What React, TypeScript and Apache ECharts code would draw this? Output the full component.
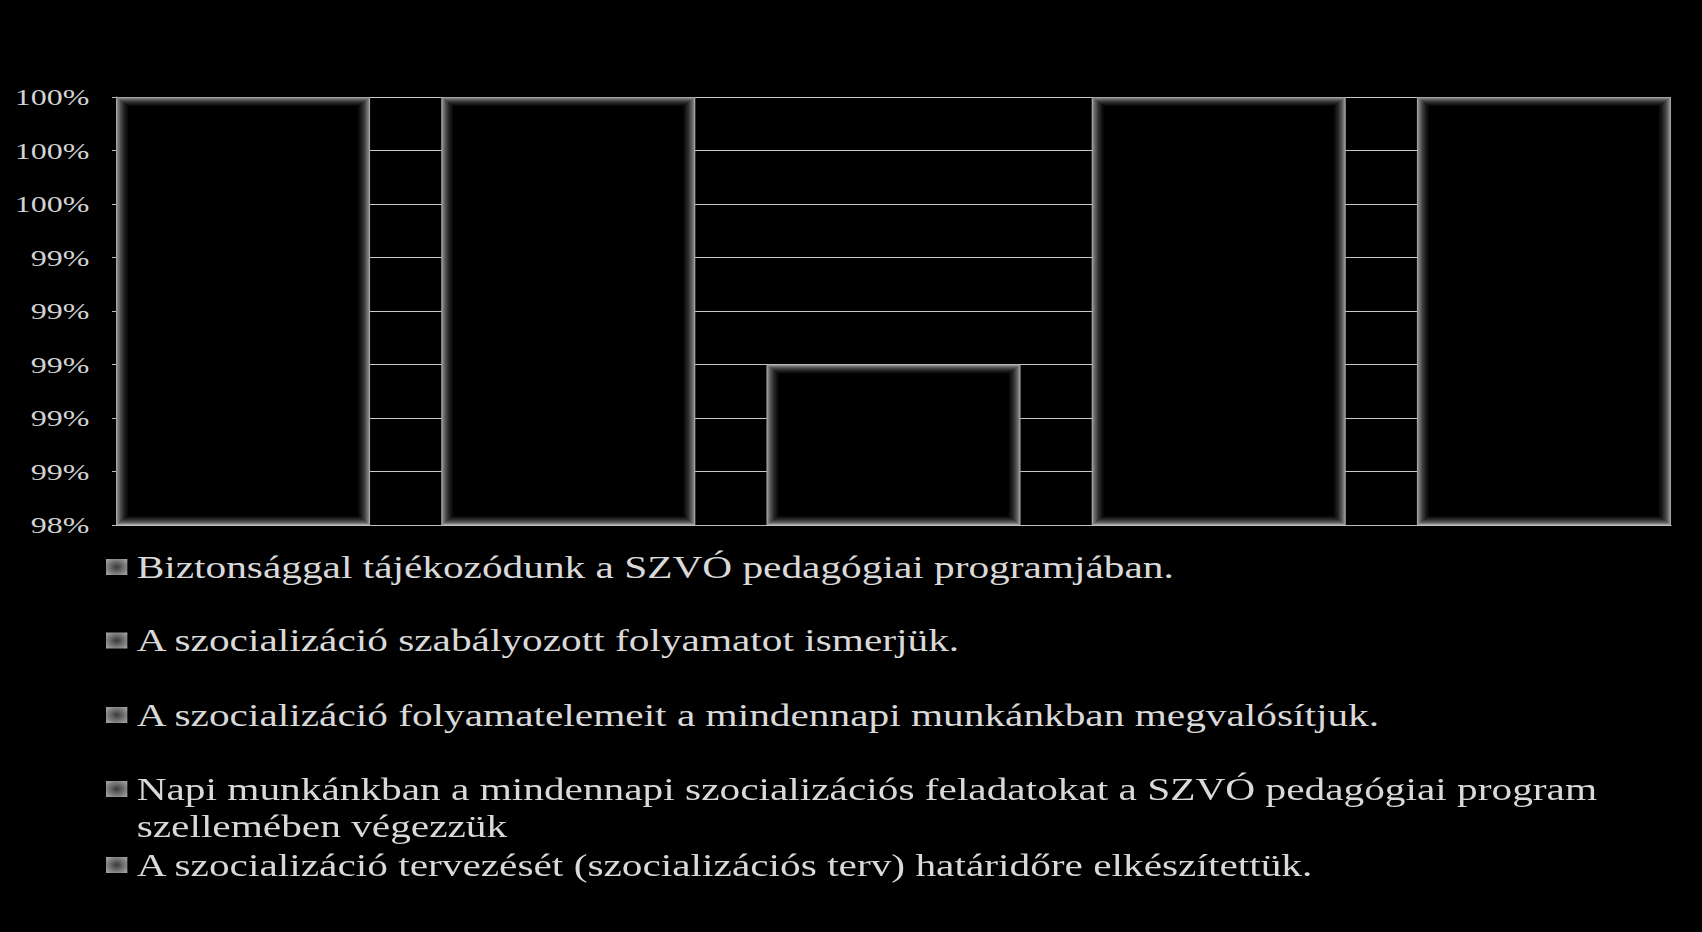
import { useEffect, useRef } from 'react';
import * as echarts from 'echarts';

// the reference picture is a 4:3 slide stretched to 16:9, so the chart is drawn narrow and stretched
const SX = 4 / 3;
const W = 1702;
const H = 932;

const seriesNames = [
    'Biztonsággal tájékozódunk a SZVÓ pedagógiai programjában.',
    'A szocializáció szabályozott folyamatot ismerjük.',
    'A szocializáció folyamatelemeit a mindennapi munkánkban megvalósítjuk.',
    'Napi munkánkban a mindennapi szocializációs feladatokat a SZVÓ pedagógiai program szellemében végezzük',
    'A szocializáció tervezését (szocializációs terv) határidőre elkészítettük.',
];
const seriesValues = [100, 100, 98.75, 100, 100];
const yTickLabels = ['98%', '99%', '99%', '99%', '99%', '99%', '100%', '100%', '100%'];
const yMin = 98;
const yMax = 100;
const yStep = 0.25;

// layout
const barGapRatio = 0.28;
const legendTops = [548.5, 622, 696.5, 733.5, 846.5];
const glowShades = ['#a2a2a2', '#7c7c7c', '#636363', '#4e4e4e', '#3c3c3c', '#2c2c2c', '#1f1f1f', '#141414', '#0a0a0a', '#000000'];
const serif = "'Liberation Serif', 'Times New Roman', serif";

// the long legend entry wraps before this word; a leading empty line keeps the icon on its first line
const wrapLegend = (nm: string) => '\n' + nm.replace(' szellemében', '\nszellemében');

const makeRenderItem = (idx: number) => (_params: any, api: any) => {
    const top = api.coord([api.value(0), api.value(1)]);
    const base = api.coord([api.value(0), yMin]);
    const catW = api.size([1, 0])[0];
    const n = seriesValues.length;
    const bw = catW / (n + (n - 1) * barGapRatio);
    const x = base[0] - catW / 2 + idx * bw * (1 + barGapRatio);
    const h = base[1] - top[1];
    return {
        type: 'group',
        children: glowShades.map((fill, k) => ({
            type: 'rect',
            shape: { x: x + k, y: top[1] + k, width: Math.max(bw - 2 * k, 0), height: Math.max(h - 2 * k, 0) },
            style: { fill },
        })),
    };
};

export default function App() {
    const chartRef = useRef<HTMLDivElement>(null);

    useEffect(() => {
        const myChart = echarts.init(chartRef.current, null, { renderer: 'svg', width: W / SX, height: H });

        const iconColor = new echarts.graphic.RadialGradient(0.5, 0.5, 0.75, [
            { offset: 0, color: '#3a3a3a' },
            { offset: 1, color: '#b4b4b4' },
        ]);

        myChart.setOption({
            animation: false,
            backgroundColor: '#000',
            grid: { left: 87, right: 23.25, top: 97, bottom: 407 },
            xAxis: {
                type: 'category',
                data: [''],
                axisLine: { show: true, lineStyle: { color: '#bdbdbd', width: 1 } },
                axisTick: { show: false },
                axisLabel: { show: false },
            },
            yAxis: {
                type: 'value',
                min: yMin,
                max: yMax,
                interval: yStep,
                axisLine: { show: true, lineStyle: { color: '#bdbdbd', width: 1 } },
                axisTick: { show: true, length: 3, lineStyle: { color: '#bdbdbd' } },
                splitLine: { show: true, lineStyle: { color: '#c8c8c8', width: 1 } },
                axisLabel: {
                    margin: 20,
                    color: '#d2d2d2',
                    fontFamily: serif,
                    fontSize: 24,
                    formatter: (v: number) => yTickLabels[Math.round((v - yMin) / yStep)] ?? '',
                },
            },
            legend: seriesNames.map((name, i) => ({
                data: [{ name, icon: 'rect', itemStyle: { color: iconColor } }],
                left: 79.5,
                top: legendTops[i],
                orient: 'vertical',
                padding: 0,
                itemWidth: 16,
                itemHeight: 16,
                selectedMode: false,
                formatter: (nm: string) => (i === 3 ? wrapLegend(nm) : nm),
                textStyle: {
                    color: '#d9d9d9',
                    fontFamily: serif,
                    fontSize: 31,
                    lineHeight: 37,
                    padding: [0, 0, 0, 2],
                },
            })),
            series: seriesNames.map((name, i) => ({
                type: 'custom',
                name,
                data: [[0, seriesValues[i]]],
                encode: { x: 0, y: 1 },
                renderItem: makeRenderItem(i),
                z: 3,
            })),
        });

        return () => {
            myChart.dispose();
        };
    }, []);

    return (
        <div style={{ position: 'fixed', left: 0, top: 0, width: W, height: H, background: '#000', overflow: 'hidden' }}>
            <div
                ref={chartRef}
                style={{ width: W / SX, height: H, transform: `scaleX(${SX})`, transformOrigin: '0 0' }}
            />
        </div>
    );
}
